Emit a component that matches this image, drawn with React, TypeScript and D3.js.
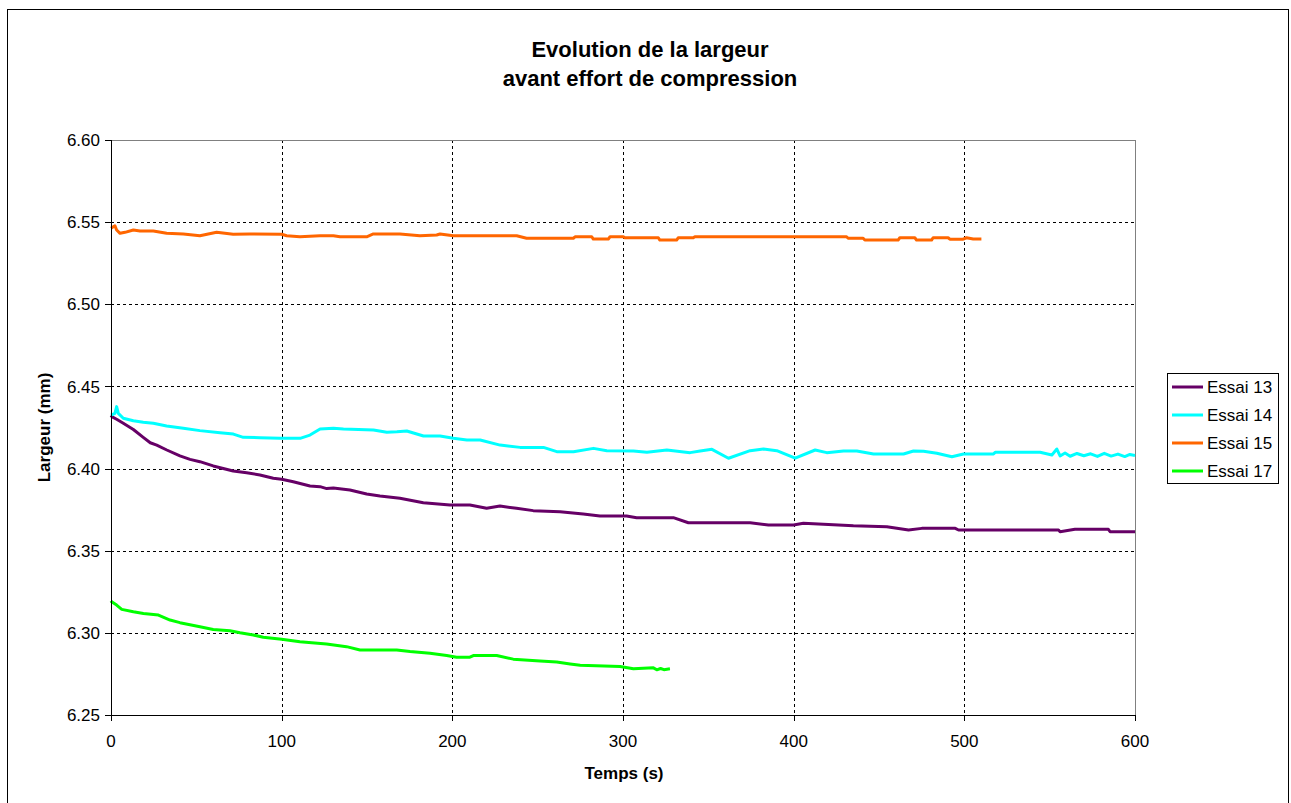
import React from "react";
import * as d3 from "d3";

const titleLines = ["Evolution de la largeur", "avant effort de compression"];
const xTicks = [0, 100, 200, 300, 400, 500, 600];
const yTicks = [6.25, 6.3, 6.35, 6.4, 6.45, 6.5, 6.55, 6.6];
const seriesNames = ["Essai 13", "Essai 14", "Essai 15", "Essai 17"];
const seriesColors = ["#660066", "#00FFFF", "#FF6600", "#00FF00"];

const essai13: [number, number][] = [
  [0, 6.431], [0.4, 6.4316], [3.3, 6.43], [7.2, 6.4276], [13.1, 6.4238], [18.9, 6.419], [23, 6.4157],
  [26.8, 6.4143], [32.7, 6.4113], [40.4, 6.4077], [46.3, 6.4056], [52.1, 6.4042], [59.9, 6.4016],
  [71.6, 6.3985], [79.5, 6.3975], [87.3, 6.3961], [95.1, 6.3941], [100, 6.3935], [106.8, 6.392],
  [116.6, 6.3894], [122.5, 6.389], [126.4, 6.3878], [130.3, 6.3882], [140, 6.387], [149.8, 6.3845],
  [157.6, 6.3833], [169.3, 6.3819], [183, 6.3792], [198.6, 6.3778], [210.3, 6.3778], [220.1, 6.3758],
  [227.9, 6.3772], [237.6, 6.3758], [247.4, 6.3744], [263.1, 6.3737], [276.7, 6.3723], [286.5, 6.3711],
  [302.1, 6.3711], [308, 6.3701], [329.5, 6.3701], [338.3, 6.367], [374.5, 6.367], [385.2, 6.3657],
  [399.9, 6.3657], [405.7, 6.3667], [414.5, 6.3663], [435, 6.3652], [454.6, 6.3646], [467.3, 6.3626],
  [475.1, 6.3636], [494.7, 6.3636], [496.6, 6.3626], [555.2, 6.3626], [556.1, 6.3616], [564.8, 6.363],
  [584.4, 6.363], [585.4, 6.3616], [600, 6.3616],
];

const essai14: [number, number][] = [
  [0, 6.4326], [2.3, 6.4336], [3.3, 6.4377], [4.3, 6.4336], [7.2, 6.4306], [13.1, 6.4291], [18.9, 6.4282],
  [24.8, 6.4276], [32.6, 6.4259], [42.4, 6.4245], [52.1, 6.4231], [63.9, 6.4218], [71.7, 6.421],
  [77.5, 6.419], [87.3, 6.4188], [99.1, 6.4184], [110.8, 6.4184], [116.6, 6.4204], [122.5, 6.4241],
  [130.3, 6.4245], [136.2, 6.4241], [153.8, 6.4235], [161.6, 6.4221], [167.5, 6.4224], [173.3, 6.4229],
  [183.1, 6.4198], [192.8, 6.4198], [200.6, 6.4184], [208.5, 6.4174], [216.3, 6.4174], [228, 6.4143],
  [239.7, 6.4129], [253.4, 6.4129], [261.2, 6.4103], [271, 6.4103], [282.7, 6.4123], [290.5, 6.4109],
  [306.1, 6.4107], [314, 6.4099], [325.7, 6.4113], [339.3, 6.4097], [345.2, 6.4107], [352.1, 6.4117],
  [361.8, 6.4063], [374.5, 6.4109], [382.3, 6.4119], [390.1, 6.4109], [400.9, 6.4063], [412.6, 6.4113],
  [419.4, 6.4097], [429.2, 6.4107], [437, 6.4107], [446.8, 6.4089], [464.4, 6.4089], [470.2, 6.4107],
  [476.1, 6.4105], [483.9, 6.4093], [492.7, 6.4072], [499.5, 6.4089], [517.1, 6.4089], [518.1, 6.4099],
  [544.4, 6.4099], [551.3, 6.4083], [554.2, 6.4119], [556.1, 6.4077], [559, 6.4095], [562, 6.4075],
  [566, 6.4092], [570, 6.4078], [574, 6.409], [578, 6.4074], [582, 6.4093], [586, 6.4076], [590, 6.4088],
  [594, 6.4073], [597, 6.4086], [600, 6.408],
];

const essai15: [number, number][] = [
  [0, 6.5463], [2.3, 6.5478], [3.3, 6.5452], [5.3, 6.5432], [8.2, 6.5438], [13.1, 6.5452], [17, 6.5446],
  [24.8, 6.5446], [32.6, 6.5432], [42.4, 6.5428], [52.1, 6.5417], [61.9, 6.5438], [71.6, 6.5426],
  [81.4, 6.5428], [100, 6.5426], [102.9, 6.5417], [110.7, 6.5411], [122.5, 6.5417], [130.3, 6.5417],
  [134.2, 6.5411], [149.8, 6.5411], [153.7, 6.5428], [169.3, 6.5428], [181, 6.5417], [190.8, 6.5422],
  [192.8, 6.5428], [200.6, 6.5417], [237.7, 6.5417], [243.5, 6.5402], [270.9, 6.5402], [271.9, 6.5411],
  [281.7, 6.5411], [282.6, 6.5397], [291.4, 6.5397], [292.4, 6.5411], [300.2, 6.5411], [301.1, 6.5405],
  [320.7, 6.5405], [321.6, 6.5391], [331.4, 6.5391], [332.4, 6.5405], [341.2, 6.5405], [342.1, 6.5411],
  [431, 6.5411], [431.9, 6.5402], [440.7, 6.5402], [441.7, 6.5391], [461.2, 6.5391], [462.2, 6.5405],
  [471, 6.5405], [472, 6.5391], [480.8, 6.5391], [481.7, 6.5405], [490.5, 6.5405], [491.5, 6.5396],
  [499.3, 6.5396], [501.3, 6.5405], [505.2, 6.5397], [510, 6.5397],
];

const essai17: [number, number][] = [
  [0, 6.3195], [0.4, 6.3189], [3.3, 6.3169], [6.3, 6.3143], [13.1, 6.3128], [19, 6.3118], [27.8, 6.3108],
  [34.6, 6.3078], [40.4, 6.3062], [52.1, 6.3037], [59.9, 6.3021], [69.7, 6.3013], [75.6, 6.3001],
  [83.4, 6.2987], [89.2, 6.2973], [100, 6.2961], [110.7, 6.2946], [126.3, 6.2932], [138, 6.2916],
  [145.9, 6.2896], [167.4, 6.2896], [175.2, 6.2886], [186.9, 6.2876], [196.7, 6.2862], [202.5, 6.2852],
  [210.3, 6.2852], [212.3, 6.2862], [226, 6.2862], [235.7, 6.284], [251.4, 6.2829], [261.2, 6.2823],
  [269, 6.2811], [274.9, 6.2803], [298.3, 6.2795], [306.1, 6.2781], [311.9, 6.2785], [317.8, 6.2787],
  [319.8, 6.2775], [322, 6.2783], [324, 6.2776], [327.5, 6.2781],
];

const allSeries = [essai13, essai14, essai15, essai17];

const W = 1291;
const H = 803;
const left = 111;
const right = 1135;
const top = 140;
const bottom = 715;
const font = "'Liberation Sans', Arial, sans-serif";

export default function App() {
  const x = d3.scaleLinear().domain([0, 600]).range([left, right]);
  const y = d3.scaleLinear().domain([6.25, 6.6]).range([bottom, top]);
  const line = d3
    .line<[number, number]>()
    .x((d) => x(d[0]))
    .y((d) => y(d[1]));

  return (
    <svg
      width={W}
      height={H}
      style={{ position: "absolute", left: 0, top: 0, background: "#fff" }}
      fontFamily={font}
    >
      <rect x={0} y={0} width={W} height={H} fill="#fff" />
      {/* outer chart frame */}
      <rect x={7.5} y={9.5} width={1281} height={820} fill="none" stroke="#000" strokeWidth={1} />

      {/* title */}
      {titleLines.map((t, i) => (
        <text
          key={t}
          x={650}
          y={57 + i * 29}
          textAnchor="middle"
          fontSize={22}
          fontWeight="bold"
          fill="#000"
        >
          {t}
        </text>
      ))}

      {/* grid */}
      {yTicks
        .filter((v) => v > 6.25 && v < 6.6)
        .map((v) => (
          <line
            key={"gy" + v}
            x1={left}
            x2={right}
            y1={Math.round(y(v)) + 0.5}
            y2={Math.round(y(v)) + 0.5}
            stroke="#000"
            strokeDasharray="3,3"
            strokeWidth={1}
          />
        ))}
      {xTicks
        .filter((v) => v > 0 && v < 600)
        .map((v) => (
          <line
            key={"gx" + v}
            x1={Math.round(x(v)) + 0.5}
            x2={Math.round(x(v)) + 0.5}
            y1={top}
            y2={bottom}
            stroke="#000"
            strokeDasharray="3,3"
            strokeWidth={1}
          />
        ))}

      {/* plot frame top/right */}
      <line x1={left} x2={right + 0.5} y1={top + 0.5} y2={top + 0.5} stroke="#808080" />
      <line x1={right + 0.5} x2={right + 0.5} y1={top} y2={bottom} stroke="#808080" />

      {/* series */}
      {allSeries.map((s, i) => (
        <path
          key={seriesNames[i]}
          d={line(s) || ""}
          fill="none"
          stroke={seriesColors[i]}
          strokeWidth={3}
          strokeLinejoin="round"
        />
      ))}

      {/* axes */}
      <line x1={left + 0.5} x2={left + 0.5} y1={top} y2={bottom} stroke="#000" />
      <line x1={left} x2={right + 1} y1={bottom + 0.5} y2={bottom + 0.5} stroke="#000" />
      {yTicks.map((v) => (
        <g key={"ty" + v}>
          <line
            x1={left - 6}
            x2={left}
            y1={Math.round(y(v)) + 0.5}
            y2={Math.round(y(v)) + 0.5}
            stroke="#000"
          />
          <text x={left - 11} y={y(v)} dy="0.36em" textAnchor="end" fontSize={17} fill="#000">
            {v.toFixed(2)}
          </text>
        </g>
      ))}
      {xTicks.map((v) => (
        <g key={"tx" + v}>
          <line
            x1={Math.round(x(v)) + 0.5}
            x2={Math.round(x(v)) + 0.5}
            y1={bottom}
            y2={bottom + 6}
            stroke="#000"
          />
          <text x={x(v)} y={747} textAnchor="middle" fontSize={17} fill="#000">
            {v}
          </text>
        </g>
      ))}

      {/* axis titles */}
      <text x={624} y={779} textAnchor="middle" fontSize={17} fontWeight="bold" fill="#000">
        Temps (s)
      </text>
      <text
        transform={`translate(50, ${(top + bottom) / 2}) rotate(-90)`}
        textAnchor="middle"
        fontSize={17}
        fontWeight="bold"
        fill="#000"
      >
        Largeur (mm)
      </text>

      {/* legend */}
      <rect x={1167.5} y={373.5} width={111} height={110} fill="#fff" stroke="#000" />
      {seriesNames.map((n, i) => (
        <g key={n}>
          <line
            x1={1172}
            x2={1203}
            y1={387 + i * 28}
            y2={387 + i * 28}
            stroke={seriesColors[i]}
            strokeWidth={3}
          />
          <text x={1207} y={387 + i * 28} dy="0.36em" fontSize={17} fill="#000">
            {n}
          </text>
        </g>
      ))}
    </svg>
  );
}
